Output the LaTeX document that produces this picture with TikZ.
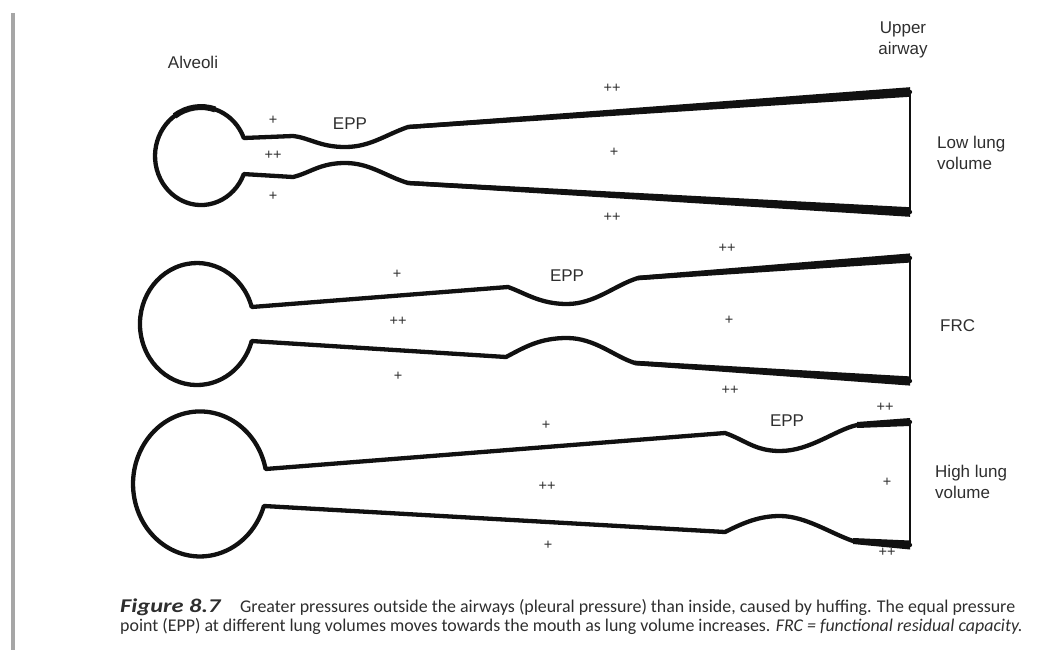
\documentclass[tikz,border=0pt]{standalone}
\usepackage{fontspec}
\setmainfont{Liberation Sans}
\newfontfamily\capfont{Carlito}
\usepackage{xcolor}
\usepackage{tikz}
\definecolor{ink}{HTML}{111111}
\definecolor{print}{HTML}{2E2E2E}
\newcommand{\taper}[6]{\fill[ink] (#1,#2-#5) -- (#3,#4-#6) -- (#3,#4+#6) -- (#1,#2+#5) -- cycle;}

\begin{document}
\begin{tikzpicture}[x=1pt, y=-1pt]
    \useasboundingbox (0,0) rectangle (1051,650);
    \tikzstyle{Wall} = [draw=ink, line width=4.3pt, line join=round, line cap=round]
    \tikzstyle{Mouth} = [draw=ink, line width=1.3pt]
    \tikzstyle{LabelStyle} = [text=print, font=\fontsize{17}{21}\selectfont, inner sep=0pt, align=left]
    \tikzstyle{PlusStyle} = [text=print, font=\fontsize{14.5}{15}\selectfont, inner sep=0pt]
    \tikzstyle{CapStyle} = [text=print, font=\capfont\fontsize{17.9}{20}\selectfont, inner sep=0pt, anchor=base west]
    \draw[gray!70, line width=4pt] (13,13) -- (13,650);
    % low lung volume
    \draw[Wall] (910,92) -- (408,127) .. controls (385,135) and (370,147) .. (345,147)
        .. controls (320,147) and (310,138) .. (293,136) -- (243.8,138)
        arc[start angle=-21.6, end angle=-338.4, x radius=46, y radius=49]
        -- (293,177) .. controls (310,173) and (320,163) .. (345,163)
        .. controls (370,163) and (385,176) .. (408,183) -- (910,212);
    \draw[ink, line width=6pt] (174.6,115.9) arc[start angle=-125, end angle=-72, x radius=46, y radius=49];
    \taper{408}{127}{910}{92}{2.1}{4.8}
    \taper{408}{183}{910}{212}{2.1}{4.8}
    \draw[Mouth] (910,92) -- (910,212);
    % FRC
    \draw[Wall] (910,258) -- (638,278) .. controls (615,285) and (595,304) .. (567,304)
        .. controls (540,304) and (525,293) .. (508,287) -- (251.7,307)
        arc[start angle=-16.2, end angle=-343.8, x radius=57, y radius=61]
        -- (506,357) .. controls (525,347) and (540,338) .. (567,338)
        .. controls (595,338) and (615,357) .. (635,363) -- (910,381);
    \taper{638}{278}{910}{258}{2.3}{4.6}
    \taper{635}{363}{910}{381}{2.3}{4.6}
    \draw[Mouth] (910,258) -- (910,381);
    % high lung volume
    \draw[Wall] (910,422) -- (857,425) .. controls (835,430) and (810,451) .. (780,451)
        .. controls (755,451) and (745,440) .. (725,433) -- (265.6,469)
        arc[start angle=-11.9, end angle=-342.3, x radius=67, y radius=72.5]
        -- (725,532) .. controls (745,522) and (760,516) .. (780,516)
        .. controls (805,516) and (830,533) .. (853,541) -- (910,545);
    \taper{857}{425}{910}{422}{3}{4}
    \taper{853}{541}{910}{545}{3}{4.5}
    \draw[Mouth] (910,422) -- (910,545);
    % labels
    \node[LabelStyle] (alveoli) at (193,62) {Alveoli};
    \node[LabelStyle, align=center] (upper) at (903,40) {Upper\\airway};
    \node[LabelStyle, anchor=west] (low) at (937,153) {Low lung\\volume};
    \node[LabelStyle, anchor=west] (frc) at (940,326) {FRC};
    \node[LabelStyle, anchor=west] (high) at (935,482) {High lung\\volume};
    \node[LabelStyle] (eppA) at (350,124) {EPP};
    \node[LabelStyle] (eppB) at (567,276) {EPP};
    \node[LabelStyle] (eppC) at (787,421) {EPP};
    \node[PlusStyle] (a1) at (273,120) {+};
    \node[PlusStyle] (a2) at (273,155) {++};
    \node[PlusStyle] (a3) at (273,196) {+};
    \node[PlusStyle] (a4) at (612,88) {++};
    \node[PlusStyle] (a5) at (614,152) {+};
    \node[PlusStyle] (a6) at (612,217) {++};
    \node[PlusStyle] (b1) at (397,274) {+};
    \node[PlusStyle] (b2) at (398,321) {++};
    \node[PlusStyle] (b3) at (398,376) {+};
    \node[PlusStyle] (b4) at (727,248) {++};
    \node[PlusStyle] (b5) at (729,320) {+};
    \node[PlusStyle] (b6) at (730,390) {++};
    \node[PlusStyle] (c1) at (546,425) {+};
    \node[PlusStyle] (c2) at (547,486) {++};
    \node[PlusStyle] (c3) at (548,545) {+};
    \node[PlusStyle] (c4) at (885,407) {++};
    \node[PlusStyle] (c5) at (887,482) {+};
    \node[PlusStyle] (c6) at (887,552) {++};
    % caption
    \node[CapStyle, font=\capfont\fontsize{19.5}{21}\selectfont\bfseries\itshape] (fig) at (120,612) {\scalebox{1.25}[1]{Figure 8.7}};
    \node[CapStyle] (cap1) at (240,612) {Greater pressures outside the airways (pleural pressure) than inside, caused by huffing. The equal pressure};
    \node[CapStyle] (cap2) at (120,631) {point (EPP) at different lung volumes moves towards the mouth as lung volume increases. \textit{FRC = functional residual capacity.}};
\end{tikzpicture}
\end{document}
